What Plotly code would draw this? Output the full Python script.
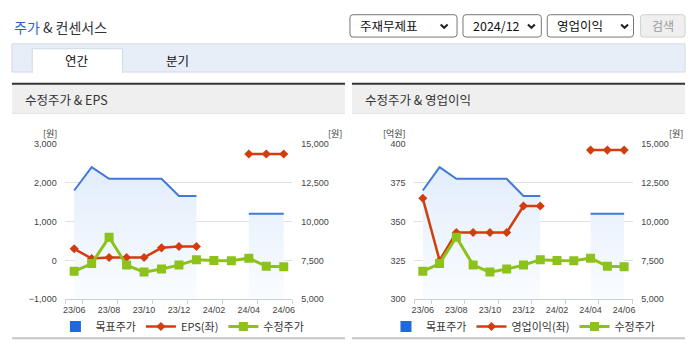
import plotly.graph_objects as go

# ---- data -------------------------------------------------------------
months = ['23/06', '23/07', '23/08', '23/09', '23/10', '23/11', '23/12',
          '24/01', '24/02', '24/03', '24/04', '24/05', '24/06']
tick_labels = ['23/06', '23/08', '23/10', '23/12', '24/02', '24/04', '24/06']

# 목표주가 (원), 수정주가 (원), EPS (원), 영업이익 (억원)
target_price = [12000, 13500, 12750, 12750, 12750, 12750, 11650, 11650,
                None, None, 10500, 10500, 10500]
adj_price = [6800, 7300, 9000, 7200, 6750, 6950, 7200, 7550, 7500, 7480,
             7650, 7120, 7100]
eps = [300, 50, 75, 75, 75, 325, 360, 360, None, None, 2740, 2740, 2740]
op_profit = [365, 325, 343, 343, 343, 343, 360, 360, None, None, 396, 396, 396]

price_ticks = [5000, 7500, 10000, 12500, 15000]
eps_ticks = [-1000, 0, 1000, 2000, 3000]
op_ticks = [300, 325, 350, 375, 400]

# ---- styling ----------------------------------------------------------
W, H = 695, 349
KR = 'Noto Sans CJK KR, Noto Sans, sans-serif'
NUM = 'Liberation Sans, Arial, sans-serif'
BLUE_LINE = '#4179d6'
BLUE_KEY = '#2068dc'
RED = '#d33d0d'
GREEN = '#8cc21a'
GRID = '#e0e0e0'
AXIS = '#c4d2e2'


def px(x):
    return x / W


def py(y):
    return 1 - y / H


xs = list(range(len(months)))
tick_pos = [months.index(t) for t in tick_labels]
boundaries = [-0.5] + [p + 0.5 for p in tick_pos]


def segments(values):
    """Split a series into runs of consecutive non-missing points."""
    runs, cur = [], []
    for i, v in enumerate(values):
        if v is None:
            if cur:
                runs.append(cur)
            cur = []
        else:
            cur.append(i)
    if cur:
        runs.append(cur)
    return runs


fig = go.Figure()


def add_chart(xa, y_price, y_left, y_top, left_vals, left_name, legend):
    # target price: each run is its own shaded area with a vertical gradient
    for run in segments(target_price):
        fig.add_trace(go.Scatter(
            x=[xs[i] for i in run], y=[target_price[i] for i in run],
            xaxis=xa, yaxis=y_price, mode='lines',
            line=dict(color=BLUE_LINE, width=2), fill='tozeroy',
            fillgradient=dict(type='vertical', start=5000, stop=13500,
                              colorscale=[[0, 'rgb(251,253,255)'],
                                          [1, 'rgb(226,237,251)']]),
            showlegend=False))
    # legend key for the target price
    fig.add_trace(go.Scatter(
        x=[None], y=[None], xaxis=xa, yaxis=y_price, mode='markers',
        marker=dict(symbol='square', size=11, color=BLUE_KEY),
        name='목표주가', legend=legend))
    fig.add_trace(go.Scatter(
        x=xs, y=left_vals, xaxis=xa, yaxis=y_left, mode='lines+markers',
        line=dict(color=RED, width=2.5),
        marker=dict(symbol='diamond', size=7, color=RED),
        name=left_name, legend=legend, connectgaps=False))
    fig.add_trace(go.Scatter(
        x=xs, y=adj_price, xaxis=xa, yaxis=y_top, mode='lines+markers',
        line=dict(color=GREEN, width=3),
        marker=dict(symbol='square', size=9, color=GREEN),
        name='수정주가', legend=legend))


add_chart('x', 'y', 'y2', 'y3', eps, 'EPS(좌)', 'legend')
add_chart('x2', 'y4', 'y5', 'y6', op_profit, '영업이익(좌)', 'legend2')

tickfont = dict(family=NUM, size=9, color='#444')


def xaxis(domain, anchor):
    return dict(domain=domain, anchor=anchor, range=[-0.5, len(months) - 0.5],
                tickmode='array', tickvals=tick_pos, ticktext=tick_labels,
                ticks='outside', ticklen=2, tickcolor='rgba(0,0,0,0)',
                minor=dict(tickmode='array', tickvals=boundaries,
                           ticks='outside', ticklen=4, tickcolor=AXIS,
                           showgrid=False),
                showline=True, linecolor=AXIS, linewidth=1,
                showgrid=False, zeroline=False, tickfont=tickfont,
                fixedrange=True)


def price_axis(anchor):
    return dict(domain=[py(303), py(143)], anchor=anchor, side='right',
                range=[5000, 15000], tickmode='array', tickvals=price_ticks,
                tickformat=',', ticks='outside', ticklen=6,
                tickcolor='rgba(0,0,0,0)', showgrid=True, gridcolor=GRID,
                gridwidth=1, zeroline=False, showline=False,
                tickfont=tickfont, fixedrange=True)


def left_axis(anchor, base, rng, vals):
    return dict(overlaying=base, anchor=anchor, side='left', range=rng,
                tickmode='array', tickvals=vals, tickformat=',',
                ticks='outside', ticklen=6, tickcolor='rgba(0,0,0,0)',
                showgrid=False, zeroline=False, showline=False,
                tickfont=tickfont, fixedrange=True)


def hidden_price(anchor, base):
    return dict(overlaying=base, anchor=anchor, range=[5000, 15000],
                visible=False, fixedrange=True)


# ---- page furniture ----------------------------------------------------
shapes = []
annotations = []


def rect(x0, y0, x1, y1, fill=None, line=None, lw=1):
    shapes.append(dict(type='rect', xref='paper', yref='paper',
                       x0=px(x0), x1=px(x1), y0=py(y1), y1=py(y0),
                       fillcolor=fill or 'rgba(0,0,0,0)',
                       line=dict(color=line or 'rgba(0,0,0,0)',
                                 width=lw if line else 0),
                       layer='below'))


def rounded(x0, y0, x1, y1, r, fill, line):
    a, b, c, d = px(x0), px(x1), py(y0), py(y1)
    rx, ry = r / W, r / H
    path = (f'M{a+rx},{c} L{b-rx},{c} Q{b},{c} {b},{c-ry} '
            f'L{b},{d+ry} Q{b},{d} {b-rx},{d} L{a+rx},{d} '
            f'Q{a},{d} {a},{d+ry} L{a},{c-ry} Q{a},{c} {a+rx},{c} Z')
    shapes.append(dict(type='path', xref='paper', yref='paper', path=path,
                       fillcolor=fill, line=dict(color=line, width=1),
                       layer='below'))


def chevron(cx, cy):
    path = (f'M{px(cx-3.5)},{py(cy-2)} L{px(cx)},{py(cy+1.5)} '
            f'L{px(cx+3.5)},{py(cy-2)}')
    shapes.append(dict(type='path', xref='paper', yref='paper', path=path,
                       line=dict(color='#222', width=2), layer='above'))


def text(x, y, s, size=12, color='#333', anchor='left', family=KR):
    annotations.append(dict(xref='paper', yref='paper', x=px(x), y=py(y),
                            text=s, showarrow=False, xanchor=anchor,
                            yanchor='middle',
                            font=dict(family=family, size=size, color=color)))


# title
text(9, 23, '<span style="color:#2f5fcf">주가</span> & 컨센서스', size=14,
     color='#333')

# selectors
for (x0, x1, label, cx) in [(350, 458, '주재무제표', 445),
                            (464, 543, '2024/12', 533),
                            (549, 636, '영업이익', 627)]:
    rounded(x0, 10, x1, 33, 3, 'white', '#767676')
    text(x0 + 8, 21.5, label, size=12.5, color='#111')
    chevron(cx, 22)
rounded(643, 10, 688, 33, 3, '#efefef', '#d0d0d0')
text(665.5, 21.5, '검색', size=12, color='#9a9a9a', anchor='center')

# tab bar
rect(9, 40, 688, 69, fill='#e8eef8', line='#cfd9e8')
rect(29.5, 45, 120.5, 70, fill='white', line='#cfd9e8')
rect(30, 68, 120, 71, fill='white')
text(75, 57, '연간', size=12.5, color='#111', anchor='center')
text(176, 57, '분기', size=12.5, color='#111', anchor='center')

# chart panels
for (x0, x1, title, lu, ru, lx, rx) in [
        (9, 345, '수정주가 & EPS', '[원]', '[원]', 47, 335),
        (352, 688, '수정주가 & 영업이익', '[억원]', '[원]', 395, 679)]:
    rect(x0, 82, x1, 111, fill='#efefef')
    rect(x0, 80, x1, 82, fill='#333333')
    rect(x0, 111, x1, 112, fill='#dcdcdc')
    rect(x0, 342, x1, 344, fill='#c6c6c6')
    text(x0 + 11, 97, title, size=12.5, color='#333')
    text(lx, 132, lu, size=9, color='#333', anchor='center')
    text(rx, 132, ru, size=9, color='#333', anchor='center')

legend_style = dict(orientation='h', xanchor='center', yanchor='middle',
                    y=py(331), bgcolor='rgba(0,0,0,0)',
                    font=dict(family=KR, size=11, color='#333'),
                    itemclick=False, itemdoubleclick=False, itemwidth=30,
                    tracegroupgap=0)

fig.update_layout(
    width=W, height=H, margin=dict(l=0, r=0, t=0, b=0),
    paper_bgcolor='white', plot_bgcolor='white', hovermode=False,
    xaxis=xaxis([px(63), px(292)], 'y'),
    yaxis=price_axis('x'),
    yaxis2=left_axis('x', 'y', [-1000, 3000], eps_ticks),
    yaxis3=hidden_price('x', 'y'),
    xaxis2=xaxis([px(415), px(635)], 'y4'),
    yaxis4=price_axis('x2'),
    yaxis5=left_axis('x2', 'y4', [300, 400], op_ticks),
    yaxis6=hidden_price('x2', 'y4'),
    legend=dict(legend_style, x=px(181)),
    legend2=dict(legend_style, x=px(525)),
    shapes=shapes, annotations=annotations,
)

fig.write_html('out.html', config={'displayModeBar': False})
